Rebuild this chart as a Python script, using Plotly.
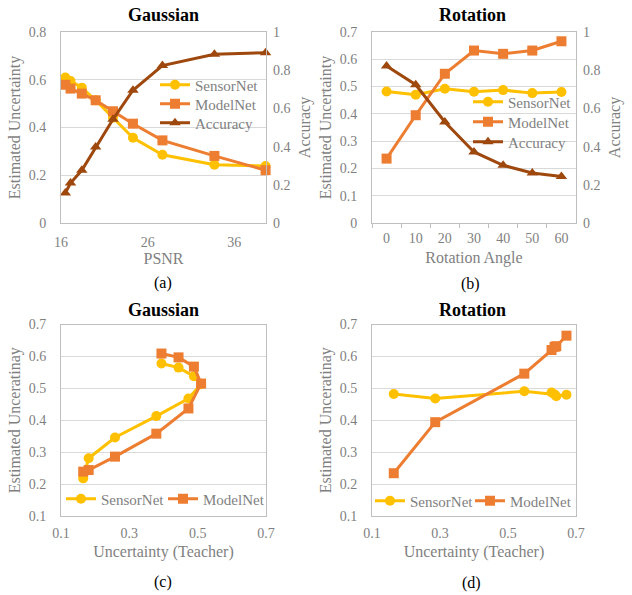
import plotly.graph_objects as go

# ---------------- data ----------------
psnr = [16.5, 17.1, 18.4, 20.0, 22.0, 24.3, 27.7, 33.7, 39.6]
a_sensor = [0.609, 0.595, 0.567, 0.514, 0.441, 0.357, 0.286, 0.244, 0.239]
a_model = [0.579, 0.563, 0.542, 0.514, 0.468, 0.416, 0.346, 0.281, 0.221]
a_acc = [0.157, 0.209, 0.276, 0.398, 0.543, 0.695, 0.824, 0.883, 0.892]

angles = ["0", "10", "20", "30", "40", "50", "60"]
b_sensor = [0.482, 0.470, 0.492, 0.481, 0.487, 0.476, 0.480]
b_model = [0.236, 0.395, 0.547, 0.632, 0.620, 0.632, 0.666]
b_acc = [0.822, 0.724, 0.529, 0.372, 0.302, 0.262, 0.244]

c_teacher = [0.394, 0.444, 0.489, 0.510, 0.473, 0.379, 0.258, 0.181, 0.165]
c_sensor = [0.578, 0.565, 0.538, 0.513, 0.468, 0.413, 0.346, 0.281, 0.218]
c_model = [0.609, 0.597, 0.568, 0.515, 0.437, 0.358, 0.286, 0.244, 0.239]

d_teacher = [0.164, 0.286, 0.548, 0.637, 0.628, 0.642, 0.672]
d_sensor = [0.482, 0.468, 0.491, 0.481, 0.487, 0.475, 0.480]
d_model = [0.234, 0.394, 0.546, 0.630, 0.620, 0.632, 0.665]

# ---------------- style ----------------
W, H = 632, 595
C_SENSOR = "#FFC000"
C_MODEL = "#ED7D31"
C_ACC = "#9E480E"
GRID = "#D9D9D9"
BORDER = "#BFBFBF"
TXT = "#7F7F7F"
FONT = "Liberation Serif, Times New Roman, Times, serif"


def px(x):
    return x / W


def py(y):
    return 1 - y / H


def line_trace(x, y, name, color, symbol, xa, ya, legend):
    return go.Scatter(
        x=x, y=y, name=name, mode="lines+markers",
        line=dict(color=color, width=3),
        marker=dict(symbol=symbol, size=10, color=color),
        xaxis=xa, yaxis=ya, legend=legend, showlegend=True,
        cliponaxis=False,
    )


fig = go.Figure()
# (a)
fig.add_trace(line_trace(psnr, a_sensor, "SensorNet", C_SENSOR, "circle", "x", "y", "legend"))
fig.add_trace(line_trace(psnr, a_model, "ModelNet", C_MODEL, "square", "x", "y", "legend2"))
fig.add_trace(line_trace(psnr, a_acc, "Accuracy", C_ACC, "triangle-up", "x", "y2", "legend3"))
# (b)
fig.add_trace(line_trace(angles, b_sensor, "SensorNet", C_SENSOR, "circle", "x2", "y3", "legend4"))
fig.add_trace(line_trace(angles, b_model, "ModelNet", C_MODEL, "square", "x2", "y3", "legend5"))
fig.add_trace(line_trace(angles, b_acc, "Accuracy", C_ACC, "triangle-up", "x2", "y4", "legend6"))
# (c)
fig.add_trace(line_trace(c_teacher, c_sensor, "SensorNet", C_SENSOR, "circle", "x3", "y5", "legend7"))
fig.add_trace(line_trace(c_teacher, c_model, "ModelNet", C_MODEL, "square", "x3", "y5", "legend8"))
# (d)
fig.add_trace(line_trace(d_teacher, d_sensor, "SensorNet", C_SENSOR, "circle", "x4", "y6", "legend9"))
fig.add_trace(line_trace(d_teacher, d_model, "ModelNet", C_MODEL, "square", "x4", "y6", "legend10"))

tickfont = dict(family=FONT, size=14, color=TXT)
titlefont = dict(family=FONT, size=16, color=TXT)


def xax(domain, anchor, title, standoff=4, **kw):
    d = dict(domain=domain, anchor=anchor, showgrid=False, zeroline=False,
             showline=True, linecolor=BORDER, linewidth=1, mirror=True,
             automargin=False,
             tickfont=tickfont, ticklabelstandoff=6,
             title=dict(text=title, font=titlefont, standoff=standoff))
    d.update(kw)
    return d


def yax(domain, anchor, title, rng, dtick, **kw):
    d = dict(domain=domain, anchor=anchor, range=rng, dtick=dtick, tick0=0,
             showgrid=True, gridcolor=GRID, gridwidth=1, zeroline=False,
             showline=True, linecolor=BORDER, linewidth=1, mirror=True,
             automargin=False,
             tickfont=tickfont, ticklabelstandoff=11,
             title=dict(text=title, font=titlefont, standoff=4))
    d.update(kw)
    return d


def y2ax(overlay, anchor):
    return dict(overlaying=overlay, side="right", anchor=anchor, range=[0, 1], dtick=0.2,
                tick0=0, showgrid=False, zeroline=False, showline=False,
                automargin=False, tickfont=tickfont, ticklabelstandoff=6,
                title=dict(text="Accuracy", font=titlefont, standoff=9))


xa_dom = [px(61), px(266)]
xb_dom = [px(372), px(576)]
ytop = [py(223), py(32)]
ybot = [py(516), py(324.5)]

layout = dict(
    width=W, height=H,
    margin=dict(l=0, r=0, t=0, b=0, autoexpand=False),
    paper_bgcolor="white", plot_bgcolor="white",
    font=dict(family=FONT, color=TXT),
    xaxis=xax(xa_dom, "y", "PSNR", range=[16, 39.65], tick0=16, dtick=10),
    yaxis=yax(ytop, "x", "Estimated Uncertainty", [0, 0.8], 0.2),
    yaxis2=y2ax("y", "x"),
    xaxis2=xax(xb_dom, "y3", "Rotation Angle", standoff=7, type="category", range=[-0.5, 6.5],
               ticks="outside", tickson="boundaries", ticklen=4, tickcolor=BORDER,
               ticklabelstandoff=2),
    yaxis3=yax(ytop, "x2", "Estimated Uncertainty", [0, 0.7], 0.1),
    yaxis4=y2ax("y3", "x2"),
    xaxis3=xax(xa_dom, "y5", "Uncertainty (Teacher)", standoff=6, range=[0.1, 0.7], tick0=0.1, dtick=0.2,
               ticklabelstandoff=4),
    yaxis5=yax(ybot, "x3", "Estimated Unceratinay", [0.1, 0.7], 0.1),
    xaxis4=xax(xb_dom, "y6", "Uncertainty (Teacher)", standoff=6, range=[0.1, 0.7], tick0=0.1, dtick=0.2,
               ticklabelstandoff=4),
    yaxis6=yax(ybot, "x4", "Estimated Unceratinay", [0.1, 0.7], 0.1),
)

legfont = dict(family=FONT, size=15, color=TXT)
LEG_OFF = 41  # text start minus legend x
# (text_start_x, row_center_y) for each single-item legend
leg_pos = [
    (196, 85), (196, 104), (196, 123),          # (a)
    (509, 102), (509, 122), (509, 142),         # (b)
    (102, 499), (204, 499),                     # (c)
    (411, 501), (511, 501),                     # (d)
]
for i, (tx, ty) in enumerate(leg_pos):
    key = "legend" if i == 0 else "legend%d" % (i + 1)
    layout[key] = dict(x=px(tx - LEG_OFF), y=py(ty), xanchor="left", yanchor="middle",
                       font=legfont, bgcolor="rgba(0,0,0,0)", borderwidth=0,
                       itemclick=False, itemdoubleclick=False)

fig.update_layout(**layout)

ann = []
for x, y, t in [(163, 15, "Gaussian"), (472, 15, "Rotation"), (163, 310, "Gaussian"), (472, 310, "Rotation")]:
    ann.append(dict(x=px(x), y=py(y), xref="paper", yref="paper", text="<b>%s</b>" % t,
                    showarrow=False, font=dict(family=FONT, size=18, color="black"),
                    xanchor="center", yanchor="middle"))
for x, y, t in [(163, 283, "(a)"), (470, 284, "(b)"), (163, 582, "(c)"), (471, 583, "(d)")]:
    ann.append(dict(x=px(x), y=py(y), xref="paper", yref="paper", text=t,
                    showarrow=False, font=dict(family=FONT, size=16, color="black"),
                    xanchor="center", yanchor="middle"))
fig.update_layout(annotations=ann)

fig.write_html("out.html",
               config={"displayModeBar": False},
               post_script="document.body.style.margin='0px';document.body.style.overflow='hidden';")
